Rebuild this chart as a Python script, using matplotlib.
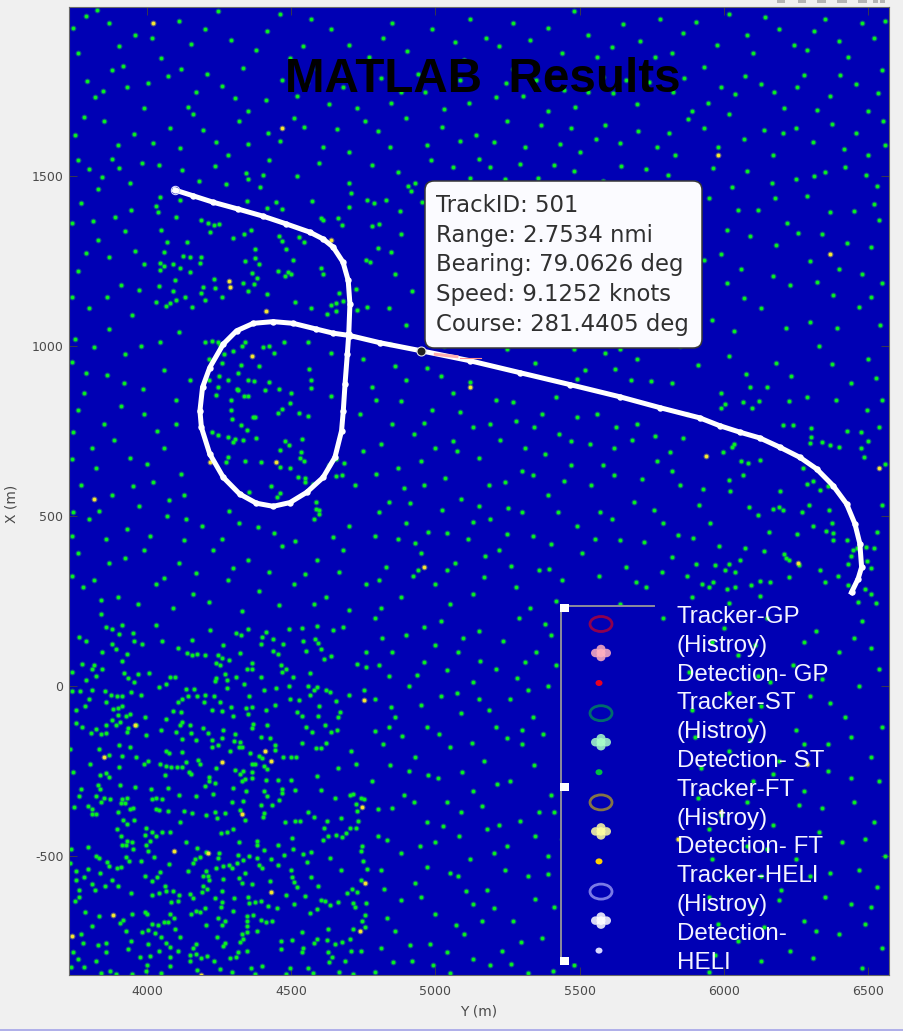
"""
Recreate the 'MATLAB Results' track plot: noise detections, one white track,
a data tip and the pasted legend strip.
"""

import matplotlib
matplotlib.use("Agg")
import matplotlib.pyplot as plt
from matplotlib.patches import Ellipse, FancyBboxPatch, Rectangle
from matplotlib.transforms import IdentityTransform

FIG_W, FIG_H = 904, 1031
BLUE = "#0000b4"
BG = "#f0f0f0"

# ── Data (values as (Y, X) in metres) ─────────────────────────────────────────
track = [(4097, 1458), (4160, 1441), (4230, 1422), (4316, 1402), (4403, 1381), (4484, 1358), (4565, 1334),
         (4611, 1314), (4646, 1290), (4680, 1246), (4698, 1192), (4704, 1123), (4700, 1035), (4695, 976),
         (4687, 887), (4681, 809), (4675, 750), (4652, 672), (4611, 613), (4554, 569), (4496, 539),
         (4438, 528), (4380, 537), (4322, 564), (4265, 613), (4218, 682), (4189, 760), (4184, 809),
         (4193, 878), (4218, 936), (4265, 1005), (4311, 1044), (4369, 1066), (4438, 1071), (4507, 1066),
         (4588, 1049), (4646, 1037), (4704, 1030), (4808, 1009), (4946, 986), (5120, 956), (5293, 921),
         (5466, 886), (5640, 850), (5779, 818), (5917, 788), (5986, 765), (6056, 746), (6125, 729),
         (6194, 702), (6264, 672), (6322, 638), (6379, 589), (6426, 535), (6455, 476), (6472, 418),
         (6478, 349), (6466, 315), (6443, 275)]

green_near = [(4180, 1483), (4274, 1476), (4345, 1507), (4349, 1490), (4401, 1503), (4391, 1468),
    (4519, 1500), (4701, 1479), (4706, 1448), (4764, 1430), (4788, 1419), (4571, 1425), (4700, 1407),
    (4447, 1422), (4469, 1401), (4415, 1405), (4348, 1427), (4045, 1437), (4030, 1412), (4039, 1393),
    (4102, 1378), (4116, 1429), (4189, 1370), (4212, 1361), (4233, 1356), (4249, 1358), (4218, 1334),
    (4050, 1341), (4070, 1305), (4139, 1304), (4059, 1277), (4299, 1317), (4336, 1329), (4360, 1339),
    (4457, 1322), (4467, 1309), (4527, 1319), (4544, 1304), (4484, 1285), (4374, 1285), (4374, 1258),
    (4388, 1241), (4339, 1250), (4507, 1252), (4126, 1263), (4151, 1262), (4187, 1262), (4183, 1244),
    (4045, 1244), (4059, 1234), (4045, 1224), (4089, 1239), (4114, 1228), (4149, 1218), (4099, 1192),
    (4041, 1177), (4089, 1160), (4232, 1197), (4235, 1170), (4195, 1174), (4186, 1154), (4201, 1136),
    (4131, 1143), (4100, 1135), (4079, 1125), (4065, 1118), (4157, 1115), (4260, 1143), (4364, 1214),
    (4381, 1199), (4334, 1184), (4370, 1182), (4351, 1160), (4417, 1152), (4454, 1221), (4490, 1218),
    (4480, 1205), (4501, 1211), (4605, 1228), (4611, 1211), (4514, 1128), (4568, 1110), (4667, 1154),
    (4680, 1131), (4655, 1126), (4640, 1121), (4657, 1101), (4623, 1092), (4729, 1105), (4764, 1113),
    (4724, 1167), (4759, 1252), (4775, 1245), (4802, 1288), (4782, 1353), (4805, 1358), (4678, 1356),
    (4661, 1375), (4611, 1370), (4602, 1376)]

green_upper = [(3790, 1970), (3960, 1915), (4110, 1955), (4290, 1900), (4460, 1975), (4640, 1930), (5120, 1960),
    (5330, 1900), (5480, 1985), (5650, 1945), (5860, 1920), (6020, 1975), (6190, 1930), (6350, 1960), (6520, 1905),
    (3760, 1860), (3880, 1810), (4050, 1845), (4210, 1800), (4380, 1870), (4590, 1815), (4770, 1850), (4940, 1800),
    (5100, 1840), (5270, 1815), (5440, 1860), (5580, 1790), (5760, 1850), (5930, 1820), (6100, 1860), (6280, 1795),
    (6430, 1850), (6550, 1810), (3820, 1730), (3990, 1700), (4170, 1745), (4350, 1690), (4520, 1735), (4730, 1700),
    (4880, 1745), (5030, 1695), (5210, 1730), (5390, 1690), (5530, 1745), (5700, 1710), (5890, 1690), (6040, 1740),
    (6210, 1700), (6370, 1735), (6500, 1690), (3750, 1620), (3900, 1590), (4080, 1640), (4240, 1600), (4420, 1625),
    (4610, 1585), (4800, 1630), (4970, 1590), (5140, 1620), (5310, 1585), (5470, 1640), (5640, 1595), (5810, 1625),
    (5980, 1585), (6140, 1635), (6310, 1600), (6460, 1625), (6560, 1590), (3800, 1520), (3940, 1480), (4870, 1510),
    (4930, 1480), (5060, 1525), (5240, 1490), (5410, 1530), (5580, 1485), (5730, 1520), (5900, 1480), (6080, 1515),
    (6250, 1490), (6420, 1525), (6530, 1470), (3770, 1420), (3890, 1380), (4830, 1430), (4905, 1470), (4915, 1455),
    (5320, 1450), (5450, 1410), (5610, 1440), (5780, 1395), (5950, 1435), (6120, 1400), (6290, 1440), (6450, 1395),
    (3830, 1310), (3960, 1280), (4880, 1330), (5370, 1350), (5520, 1310), (5690, 1345), (5850, 1300), (6010, 1340),
    (6180, 1295), (6340, 1330), (6510, 1290), (3760, 1220), (3910, 1180), (3990, 1240), (4860, 1210), (4920, 1160),
    (5410, 1240), (5570, 1200), (5740, 1230), (5900, 1185), (6060, 1225), (6230, 1180), (6400, 1225), (6550, 1185),
    (3800, 1110), (3950, 1090), (4030, 1130), (4840, 1110), (4900, 1060), (4990, 1100), (5440, 1120), (5620, 1080),
    (5790, 1115), (5960, 1075), (6130, 1110), (6300, 1070), (6470, 1115), (3870, 1950), (4200, 1930), (4540, 1880),
    (4850, 1950), (5220, 1880), (5560, 1850), (5780, 1960), (6130, 1770), (6460, 1770), (3930, 1760), (4470, 1780),
    (4680, 1760), (5010, 1780), (5350, 1780), (5660, 1780), (5990, 1760), (6290, 1870), (3850, 1660), (4160, 1680),
    (4510, 1670), (4900, 1670), (5250, 1660), (5590, 1650), (5930, 1640), (6250, 1640), (6500, 1560), (3880, 1550),
    (4280, 1560), (4700, 1570), (5150, 1550), (5500, 1570), (5830, 1560), (6170, 1560), (6350, 1510), (3830, 1460),
    (5130, 1420), (5520, 1400), (5880, 1370), (6220, 1360), (6540, 1370), (5270, 1370), (5180, 1260), (5640, 1270),
    (5990, 1270), (6300, 1250), (6480, 1210), (5300, 1120), (5730, 1140), (6070, 1140), (6380, 1150), (5520, 1180)]

green_top_extra = [(3745, 1935), (3828, 1988), (3905, 1880), (4018, 1905), (4073, 1792), (4152, 1888), (4245, 1985), (4333, 1818),
    (4415, 1925), (4497, 1847), (4568, 1962), (4702, 1885), (4818, 1905), (4902, 1868), (4988, 1932), (5068, 1892), (5175, 1905),
    (5268, 1950), (5392, 1935), (5528, 1915), (5612, 1878), (5708, 1895), (5822, 1862), (5905, 1952), (5975, 1885), (6082, 1915),
    (6142, 1968), (6245, 1885), (6312, 1925), (6398, 1895), (6478, 1948), (6558, 1955), (3792, 1778), (3848, 1748), (3918, 1822),
    (4005, 1772), (4120, 1815), (4142, 1702), (4262, 1765), (4305, 1728), (4412, 1722), (4555, 1772), (4632, 1712), (4812, 1788),
    (4845, 1715), (4965, 1745), (5085, 1782), (5118, 1715), (5245, 1772), (5305, 1735), (5445, 1752), (5485, 1702), (5615, 1742),
    (5742, 1775), (5825, 1745), (5862, 1788), (5945, 1715), (6075, 1792), (6175, 1745), (6255, 1762), (6322, 1692), (6402, 1795),
    (6535, 1742), (3782, 1672), (3955, 1622), (4022, 1595), (4115, 1582), (4195, 1635), (4318, 1662), (4352, 1592), (4462, 1602),
    (4545, 1642), (4658, 1638), (4755, 1662), (4842, 1585), (5022, 1642), (5085, 1602), (5205, 1598), (5368, 1648), (5432, 1592),
    (5558, 1608), (5702, 1632), (5768, 1585), (5875, 1668), (6018, 1682), (6072, 1608), (6205, 1625), (6375, 1652), (6418, 1578),
    (6552, 1662), (3762, 1545), (3845, 1495), (3905, 1522), (3982, 1538), (4042, 1532), (4122, 1518), (4235, 1528), (4425, 1545),
    (4598, 1538), (4782, 1532), (4985, 1545), (5122, 1492), (5188, 1525), (5292, 1535), (5355, 1492), (5482, 1515), (5645, 1528),
    (5808, 1502), (5962, 1522), (6028, 1468), (6168, 1478), (6312, 1498), (6492, 1502), (3742, 1362), (3812, 1368), (3945, 1398),
    (4878, 1395), (4955, 1422), (5035, 1445), (5195, 1448), (5405, 1462), (5565, 1372), (5685, 1432), (5835, 1428), (6048, 1398),
    (6178, 1435), (6368, 1392), (6522, 1418), (3925, 1338), (3868, 1262), (3788, 1272), (4848, 1275), (5225, 1322), (5442, 1302),
    (5612, 1342), (5782, 1312), (5932, 1252), (6092, 1322), (6258, 1332), (6428, 1302), (3742, 1142), (3862, 1142), (3972, 1165),
    (5362, 1202), (5492, 1158), (5672, 1168), (5842, 1222), (6012, 1185), (6172, 1205), (6322, 1188), (6512, 1142), (5412, 1062),
    (5565, 1062), (5702, 1052), (5895, 1122), (6035, 1042), (6215, 1052), (6392, 1052), (6542, 1062)]

green_middle = [(3750, 1020), (3870, 1050), (3980, 1000), (4110, 1040), (4200, 1010), (4330, 1000), (4440, 980),
    (4560, 1010), (4640, 980), (4750, 960), (4860, 940), (5020, 910), (5150, 1010), (5300, 1030), (5480, 990),
    (5590, 980), (5700, 960), (5850, 1000), (6020, 970), (6180, 950), (6330, 1000), (6500, 960), (3790, 920),
    (3920, 890), (4060, 930), (4150, 900), (4780, 880), (4900, 900), (5060, 860), (5210, 840), (5370, 800),
    (5520, 930), (5680, 900), (5820, 890), (5990, 860), (6150, 880), (6290, 850), (6440, 890), (6550, 840),
    (3760, 810), (3850, 770), (3990, 800), (4100, 770), (4740, 800), (4850, 770), (4990, 810), (5130, 760),
    (5280, 780), (5430, 740), (5560, 800), (5700, 770), (5860, 730), (3810, 700), (3940, 670), (4060, 700),
    (4750, 690), (4870, 640), (5000, 700), (5150, 670), (5310, 700), (5470, 650), (5620, 700), (5770, 660),
    (3770, 590), (3880, 560), (4020, 600), (4130, 560), (4720, 590), (4840, 540), (4960, 590), (5090, 550),
    (5240, 600), (5390, 560), (5540, 590), (5690, 540), (5850, 590), (3800, 490), (3930, 460), (4070, 500),
    (4190, 470), (4320, 480), (4440, 450), (4580, 490), (4700, 470), (4790, 440), (4900, 480), (5040, 450),
    (5190, 490), (5340, 440), (5490, 470), (5640, 430), (5790, 480), (3760, 390), (3870, 360), (3990, 400),
    (4110, 360), (4230, 400), (4350, 370), (4470, 410), (4590, 370), (4680, 400), (4830, 350), (4950, 390),
    (5070, 360), (5220, 400), (5360, 340), (5510, 390), (5660, 350), (5820, 380), (3780, 290), (3900, 260),
    (4030, 300), (4160, 270), (4280, 310), (4390, 280), (4510, 300), (4620, 260), (4760, 300), (4880, 260),
    (5000, 300), (5130, 270), (5280, 290), (5420, 250), (5730, 290), (5890, 260), (3840, 210), (4090, 230),
    (4330, 220), (4580, 240), (4810, 230), (5050, 240), (5330, 230), (5640, 240), (5190, 770), (5420, 850),
    (5030, 1000), (5250, 990), (5640, 990), (5470, 720), (5060, 720), (5340, 620), (5150, 530), (4950, 660),
    (5620, 620), (5300, 510), (5570, 510), (4930, 420), (5440, 310), (5170, 320), (4940, 340)]

green_middle_extra = [(3815, 995), (3925, 975), (4045, 1012), (3742, 952), (3862, 915), (3985, 872), (4102, 842), (3782, 862),
    (3912, 822), (4035, 748), (3745, 745), (3885, 722), (4000, 652), (4118, 622), (3825, 642), (3742, 668), (3952, 588),
    (4078, 548), (3835, 515), (3745, 512), (3972, 528), (4135, 492), (3858, 432), (4012, 442), (4128, 428), (3742, 442),
    (4262, 432), (4385, 468), (4512, 425), (4645, 438), (3925, 375), (4058, 318), (4172, 332), (3815, 312), (3742, 322),
    (4298, 348), (4425, 335), (4548, 328), (4665, 335), (3842, 252), (3968, 242), (4215, 248), (4458, 238), (4702, 222),
    (4805, 312), (4922, 322), (5042, 342), (5172, 382), (5262, 352), (5395, 345), (5568, 322), (5695, 305), (5785, 335),
    (4872, 432), (4975, 452), (5115, 432), (5248, 448), (5402, 418), (5552, 432), (5725, 422), (5842, 445), (4805, 512),
    (4912, 538), (5022, 518), (5132, 482), (5252, 522), (5425, 512), (5612, 492), (5758, 518), (4795, 622), (4892, 582),
    (5032, 612), (5185, 592), (5302, 632), (5445, 602), (5582, 648), (5718, 608), (5822, 632), (4812, 712), (4925, 742),
    (5075, 692), (5225, 722), (5382, 682), (5535, 712), (5682, 722), (5815, 688), (4795, 842), (4882, 838), (4962, 772),
    (5085, 805), (5268, 835), (5342, 762), (5492, 792), (5625, 762), (5762, 735), (5872, 798), (4842, 1005), (4972, 935),
    (5122, 892), (5345, 948), (5492, 902), (5622, 932), (5748, 895), (5912, 942), (6078, 918), (6232, 912), (6375, 945),
    (6528, 905), (6092, 878), (6228, 838), (6388, 842), (6495, 812), (6428, 748), (6538, 762), (6560, 652), (6548, 532),
    (6532, 452), (5915, 532), (5952, 478), (6022, 572), (5985, 412), (5892, 435), (5905, 358), (5872, 322), (6255, 448),
    (6195, 572), (6158, 452), (6120, 502)]

green_loop = [(4227, 1015), (4248, 1010), (4255, 1002), (4340, 1010), (4403, 997), (4423, 998), (4476, 1012),
    (4297, 985), (4267, 977), (4217, 960), (4260, 950), (4327, 942), (4315, 920), (4390, 940), (4562, 931),
    (4215, 900), (4250, 910), (4281, 900), (4351, 898), (4371, 895), (4423, 894), (4569, 898), (4247, 880),
    (4241, 855), (4315, 870), (4312, 873), (4408, 870), (4459, 874), (4569, 877), (4640, 853), (4293, 840),
    (4338, 851), (4352, 851), (4293, 810), (4369, 790), (4375, 791), (4456, 803), (4470, 813), (4527, 803),
    (4557, 794), (4497, 833), (4500, 861), (4296, 786), (4328, 768), (4346, 753), (4226, 745), (4247, 739),
    (4280, 731), (4307, 725), (4335, 724), (4298, 716), (4380, 729), (4480, 721), (4492, 708), (4460, 693),
    (4537, 725), (4535, 687), (4281, 672), (4340, 661), (4275, 657), (4396, 657), (4530, 670), (4544, 660),
    (4460, 643), (4495, 640), (4525, 615), (4547, 600), (4548, 610), (4575, 594), (4429, 589), (4355, 570),
    (4460, 567), (4451, 556), (4586, 541), (4585, 520), (4597, 518), (4285, 515), (4598, 505), (4630, 650),
    (4655, 668), (4684, 655), (4675, 620), (4655, 618)]

green_right = [(6004, 828), (5992, 818), (6066, 834), (6099, 817), (6121, 837), (6206, 768), (6240, 766), (6301, 757),
    (6304, 732), (6300, 714), (6340, 717), (6368, 709), (6399, 703), (6485, 674), (6475, 700), (6500, 721),
    (6475, 745), (5999, 688), (6027, 702), (6035, 712), (6060, 660), (6085, 655), (6126, 664), (6066, 620),
    (6019, 605), (6310, 603), (6335, 575), (6290, 595), (6360, 588), (6275, 640), (5928, 579), (6087, 525),
    (6170, 520), (6193, 525), (6206, 518), (6270, 510), (6296, 533), (6374, 478), (6365, 518), (6310, 469),
    (6356, 454), (6379, 429), (6378, 449), (6426, 430), (6440, 381), (6447, 400), (6432, 358), (6461, 405),
    (6520, 405), (6498, 368), (6510, 346), (6493, 408), (6075, 405), (6057, 369), (6140, 398), (6005, 340),
    (6020, 358), (6040, 335), (6210, 389), (6215, 375), (6225, 370), (6260, 355), (6225, 320), (6335, 342),
    (6350, 305), (6396, 322), (6432, 297), (6445, 282), (6490, 286), (6510, 270), (6466, 248), (6527, 245),
    (5926, 300), (5950, 290), (5964, 305), (6010, 285), (6040, 290), (6096, 297), (6020, 245), (6126, 309),
    (6125, 263), (6161, 305), (5970, 355)]

green_lower_left = [(3857, 174), (3880, 167), (3913, 180), (3903, 153), (3952, 155), (4033, 180), (3765, 145), (3788, 133),
    (3878, 123), (3955, 131), (3984, 123), (4054, 131), (4109, 112), (4155, 135), (4218, 163), (4308, 155), (4326, 151),
    (4412, 158), (4398, 143), (4352, 166), (4493, 167), (4539, 170), (4590, 176), (4680, 174), (4647, 165), (4437, 138),
    (4265, 121), (4396, 123), (4472, 123), (4541, 131), (4583, 138), (4595, 125), (4603, 109), (4553, 102), (4637, 87),
    (4614, 79), (4759, 99), (4728, 63), (4761, 57), (3843, 99), (3892, 107), (3932, 94), (4140, 97), (4155, 91), (4175, 94),
    (4202, 91), (4247, 91), (4259, 82), (4283, 76), (4324, 98), (4439, 104), (4456, 94), (3913, 72), (3774, 63), (3817, 60),
    (3809, 49), (3843, 49), (3742, 40), (3921, 38), (3969, 35), (4007, 37), (3933, 23), (4079, 27), (4098, 27), (4239, 67),
    (4252, 62), (4366, 68), (4348, 49), (4366, 49), (4465, 61), (4481, 49), (4470, 40), (4271, 35), (4241, 23), (4279, 16),
    (4308, 25), (4395, 25), (4507, 27), (4565, 38), (3790, 16), (3825, 28), (3955, 11), (4065, 6), (4042, -4), (4337, 6),
    (4279, -6), (4235, 14), (4493, -1), (4557, 1), (4580, -11), (4622, -12), (4635, -19), (4591, -2), (4701, -26), (4753, -12),
    (3739, -16), (3767, -14), (3809, -12), (3855, -16), (3874, -27), (3895, -29), (3915, -31), (3945, -19), (3981, -26),
    (4137, -9), (4144, -29), (4164, -9), (4173, -31), (4202, -26), (4233, -31), (4198, -46), (4253, -48), (4354, -29),
    (4406, -12), (4447, -7), (4495, -38), (4528, -41), (4565, -26), (4655, -43), (3799, -39), (3859, -48), (3784, -58),
    (3884, -69), (3900, -65), (3915, -58), (4121, -40), (4108, -46), (3755, -71), (4092, -75), (4120, -76), (4225, -71),
    (4259, -75), (4290, -63), (4343, -65), (4364, -63), (4412, -71), (4443, -56), (4597, -58), (4522, -78), (4671, -78),
    (3942, -82), (3929, -89), (3901, -85), (3880, -100), (3906, -105), (3994, -92), (4065, -98), (4123, -105), (4299, -89),
    (4351, -82), (4539, -89), (4595, -89), (4661, -92), (3755, -110), (3776, -122), (3822, -127), (3859, -114), (3892, -114),
    (3961, -114), (3935, -124), (3805, -138), (3842, -142), (3859, -139), (3932, -136), (3996, -143), (4048, -131), (4100, -136),
    (4114, -114), (4148, -114), (4152, -138), (4196, -124), (4213, -139), (4264, -129), (4306, -141), (4366, -124), (4369, -112),
    (4418, -115), (4395, -151), (4553, -122), (4574, -137), (4618, -114), (4659, -129), (4637, -137), (4123, -155), (4169, -159),
    (4227, -158), (4259, -152), (4302, -163), (4428, -153), (4322, -166), (4537, -167), (4622, -169), (4588, -184), (4603, -184),
    (4707, -190), (3733, -187), (3834, -186), (3903, -173), (3940, -181), (3869, -202), (3913, -205), (3961, -208), (4068, -190),
    (4077, -196), (4123, -195), (4225, -180), (4248, -175), (4287, -192), (4320, -180), (4331, -179), (4444, -175), (4357, -197),
    (4389, -205), (4400, -213), (4443, -188), (4473, -208), (4499, -209), (4518, -210), (3802, -229), (3903, -239), (3991, -229),
    (4003, -222), (4047, -229), (4068, -235), (4084, -239), (4106, -238), (4121, -237), (4137, -224), (4183, -231), (4177, -218),
    (4239, -240), (4306, -247), (4366, -229), (4374, -230), (4406, -236), (4417, -243), (4664, -241), (4724, -231), (3744, -254),
    (3839, -263), (3859, -255), (3869, -267), (4063, -263), (4146, -254), (4152, -259), (4216, -269), (4322, -259), (4333, -250),
    (4366, -254), (4366, -271), (4341, -274), (4329, -280), (4591, -265), (3831, -292), (3836, -303), (3906, -290), (3958, -298),
    (4016, -303), (4072, -301), (4202, -294), (4216, -280), (4235, -285), (4300, -301), (4343, -308), (4412, -278), (4456, -276),
    (4498, -278), (4405, -310), (4468, -316), (4470, -303), (4513, -306), (4603, -306), (3773, -304), (3765, -325), (3825, -324),
    (3851, -329), (3871, -334), (3842, -342), (3932, -329), (3915, -332), (3911, -344), (3924, -345), (4019, -334), (4033, -329),
    (4054, -333), (4111, -322), (4172, -324), (4229, -318), (4296, -342), (4333, -339), (4417, -323), (4458, -335), (4651, -331),
    (4703, -320), (4713, -318), (4741, -331), (4753, -332), (3747, -357), (3797, -354), (3811, -362), (3809, -376), (3822, -378),
    (3901, -370), (3940, -363), (3952, -359), (4033, -362), (4042, -365), (4073, -367), (4127, -368), (4158, -374), (4204, -379),
    (4235, -371), (4270, -373), (4322, -366), (4244, -388), (4397, -349), (4435, -351), (4407, -374), (4403, -386), (4560, -370),
    (4580, -384), (4724, -347), (4727, -368), (4672, -387), (4733, -396), (4340, -394), (3918, -394), (3957, -394), (3932, -406),
    (4116, -400), (4479, -400), (4514, -396), (4530, -398), (4626, -396), (4614, -418), (3896, -422), (3996, -418), (3994, -438),
    (4019, -430), (4031, -440), (4054, -429), (4080, -430), (3909, -441), (4011, -455), (4257, -432), (4277, -429), (4299, -422),
    (4502, -447), (4628, -442), (4612, -452), (4655, -437), (4678, -443), (4690, -432), (4705, -418), (4724, -418), (3932, -455),
    (3913, -469), (3929, -467), (3947, -459), (3953, -479), (3996, -469), (4135, -460), (4320, -459), (4381, -455), (4382, -467),
    (4456, -469), (3736, -479), (3797, -474), (4005, -484), (4175, -478), (4204, -487), (4250, -491), (4407, -482), (4505, -480),
    (4541, -494), (4570, -489), (4476, -496), (4742, -484), (4747, -471), (3825, -499), (3834, -507), (3927, -504), (3938, -516),
    (3979, -516), (4025, -504), (4167, -510), (4161, -521), (4183, -504), (4248, -506), (4317, -497), (4333, -512), (4354, -500),
    (4383, -506), (4429, -510), (4636, -505), (4751, -516), (3732, -521), (3863, -518), (3869, -530), (3898, -535), (3911, -533),
    (4077, -523), (4239, -534), (4264, -529), (4283, -528), (4296, -535), (4314, -521), (4389, -526), (4400, -535), (4456, -526),
    (4501, -540), (4555, -518), (4673, -542), (4763, -539), (3753, -543), (3796, -539), (3836, -551), (3782, -561), (3753, -572),
    (3878, -572), (3811, -582), (3855, -587), (3901, -589), (3994, -558), (4034, -561), (4044, -548), (4019, -574), (4142, -543),
    (4204, -543), (4195, -558), (4213, -558), (4216, -572), (4265, -568), (4196, -587), (4320, -566), (4340, -551), (4331, -580),
    (4364, -582), (4428, -575), (4502, -563), (4510, -577), (4520, -592), (4568, -563), (4595, -587), (4741, -572), (3765, -599),
    (3819, -599), (3944, -608), (4017, -616), (4042, -610), (4063, -588), (4068, -602), (4091, -604), (4111, -615), (4150, -612),
    (4161, -623), (4192, -605), (4210, -597), (4262, -604), (4235, -624), (4302, -624), (4351, -621), (4484, -615), (4548, -619),
    (4695, -608), (4710, -597), (4730, -607), (3765, -621), (3751, -633), (4083, -636), (4108, -633), (4262, -636), (4354, -639),
    (4375, -634), (4397, -633), (4420, -646), (4452, -653), (4509, -641), (4605, -629), (4618, -633), (4634, -644), (4664, -636),
    (4713, -639), (4761, -639), (4258, -651), (4202, -653), (4299, -661), (4590, -657), (4721, -651), (3785, -664), (3834, -676),
    (3950, -670), (3992, -664), (3999, -672), (4080, -670), (4094, -682), (4152, -672), (4169, -661), (4185, -665), (4247, -683),
    (4347, -678), (4369, -675), (4566, -669), (4757, -675), (3906, -698), (3918, -688), (3809, -706), (4019, -700), (4040, -702),
    (4059, -693), (4072, -694), (4204, -702), (4262, -702), (4271, -690), (4346, -690), (4348, -705), (4396, -688), (4414, -694),
    (4435, -690), (4747, -690), (4757, -710), (3927, -721), (3984, -724), (4004, -717), (4027, -727), (4098, -715), (3773, -729),
    (4049, -737), (4115, -739), (4244, -739), (4329, -729), (4348, -723), (4381, -722), (4333, -744), (4537, -724), (4629, -715),
    (4713, -716), (3944, -749), (3779, -757), (3831, -761), (3857, -755), (4005, -759), (4065, -757), (4081, -768), (4169, -759),
    (4160, -771), (4270, -755), (4263, -766), (4322, -752), (4464, -751), (4502, -747), (4580, -757), (4589, -744), (4626, -746),
    (4652, -759), (4678, -754), (4703, -744), (3936, -773), (3857, -783), (3744, -783), (4011, -793), (4042, -778), (4108, -780),
    (4148, -790), (4172, -788), (4207, -793), (4317, -783), (4348, -778), (4465, -773), (4541, -770), (4537, -783), (4629, -782),
    (4707, -780), (4741, -778), (3762, -802), (3825, -810), (3975, -798), (4079, -798), (4150, -810), (4187, -800), (4231, -810),
    (4289, -800), (4308, -796), (4641, -798), (4686, -810), (4632, -813), (3782, -827), (3736, -827), (3871, -837), (4002, -822),
    (4079, -824), (4175, -835), (4253, -832), (4296, -842), (4360, -829), (4398, -823), (4495, -829), (4560, -829), (3840, -845),
    (3892, -847), (3950, -847), (3998, -839), (4048, -845), (4374, -847), (4481, -847), (4577, -845), (4666, -842), (4713, -847)]

green_lower_right = [(4790, 200), (4900, 150), (5020, 190), (5150, 160), (5290, 200), (5400, 150), (5790, 200), (6000, 170),
    (6150, 200), (6320, 160), (6480, 190), (4850, 100), (4960, 70), (5080, 100), (5210, 50), (5350, 100), (6050, 90),
    (6240, 60), (6400, 100), (6540, 50), (4790, -40), (4910, 0), (5020, -30), (5130, 10), (5260, -40), (5390, 0),
    (6020, -20), (6160, 10), (6300, -30), (6470, 0), (4860, -90), (4970, -120), (5090, -80), (5210, -120), (5340, -90),
    (6090, -100), (6250, -130), (6420, -90), (6550, -120), (4820, -170), (4930, -210), (5050, -180), (5170, -220),
    (5300, -170), (6020, -190), (6190, -220), (6360, -170), (6510, -210), (4780, -280), (4890, -320), (5010, -270),
    (5130, -310), (5260, -280), (5400, -320), (6100, -280), (6280, -310), (6440, -270), (4850, -360), (4970, -400),
    (5090, -370), (5220, -410), (5360, -370), (5990, -380), (6170, -410), (6340, -360), (6520, -400), (4880, -490),
    (5000, -460), (5120, -510), (5250, -470), (5390, -500), (6080, -470), (6250, -510), (6410, -460), (6560, -500),
    (4810, -540), (4930, -580), (5050, -550), (5180, -600), (5320, -560), (5450, -590), (6020, -560), (6200, -600),
    (6370, -550), (6530, -590), (4880, -630), (5000, -670), (5130, -640), (5270, -690), (5410, -650), (6100, -650),
    (6280, -690), (6440, -640), (4860, -720), (4980, -760), (5100, -730), (5230, -780), (5370, -740), (6050, -750),
    (6230, -780), (6400, -730), (6550, -770), (4790, -840), (4920, -810), (5050, -845), (5190, -820), (5320, -845),
    (5480, -820), (5950, -840), (5960, 130), (6110, 120), (6280, 130), (6450, 140), (5880, 40), (6120, 30), (6340, 20),
    (6510, 110), (5890, -70), (6130, -60), (6370, -50), (5900, -150), (6090, -160), (6280, -170), (6440, -150), (5920, -240),
    (6170, -260), (6360, -250), (6540, -280), (5910, -330), (6080, -340), (6260, -350), (6450, -340), (5950, -420),
    (6150, -480), (6330, -430), (6490, -450), (5960, -510), (6130, -560), (6300, -560), (6470, -540), (5950, -620),
    (6190, -630), (6350, -620), (6510, -650), (5980, -700), (6140, -710), (6320, -720), (6490, -700), (5970, -790),
    (6130, -810), (6310, -800), (6480, -830), (4840, -120), (4910, -250), (5040, -340), (5180, -420), (5300, -130),
    (5450, -240), (4800, -440), (5150, -40), (5310, 70), (5460, 130), (5000, 120), (4840, 30), (5080, -560), (5440, -450),
    (4815, 142), (4962, 172), (5095, 142), (5235, 132), (5382, 182), (4805, 62), (4935, 32), (5042, 48), (5155, 72),
    (5282, 22), (5418, 62), (4845, -62), (4952, -55), (5075, -22), (5185, -72), (5322, -12), (5442, -72), (4792, -132),
    (4885, -148), (5012, -142), (5128, -168), (5248, -152), (5375, -142), (5482, -182), (4842, -232), (4975, -262),
    (5092, -252), (5215, -288), (5342, -232), (5462, -292), (4802, -362), (4925, -342), (5028, -412), (5162, -352),
    (5295, -398), (5412, -372), (4832, -452), (4948, -472), (5082, -442), (5205, -492), (5345, -442), (5478, -382),
    (4822, -598), (4972, -532), (5108, -602), (5242, -542), (5392, -552), (4832, -682), (4952, -622), (5072, -702),
    (5205, -652), (5345, -628), (5478, -702), (4812, -772), (4912, -762), (5042, -782), (5162, -692), (5298, -752),
    (5442, -782), (4852, -812), (4992, -822), (5132, -802), (5262, -818), (5408, -838)]

yellow = [(4020, 1950), (4470, 1640), (4286, 1190), (4288, 1172), (4413, 1102), (4365, 970), (4640, 1310),
    (5120, 880), (5980, 1560), (6370, 1270), (6540, 640), (4960, 350), (3815, 550), (5939, 676), (6259, 361),
    (5990, -370), (5840, -450), (5630, -620), (6290, -230), (3959, -114), (3851, -209), (4262, -223), (4429, -220),
    (4410, -192), (4331, -376), (4745, -357), (4752, -41), (4094, -485), (4213, -491), (4432, -607), (4757, -580),
    (3884, -675), (3739, -734), (4738, -721), (4188, -849), (4218, 657), (4449, 658)]

# Legend strip: one ring, one diamond, one dot per target type
legend_labels = ["Tracker-GP\n(Histroy)", "Detection- GP", "Tracker-ST\n(Histroy)", "Detection- ST",
                 "Tracker-FT\n(Histroy)", "Detection- FT", "Tracker-HELI\n(Histroy)", "Detection-\nHELI"]
ring_colors = ["#a8003c", "#007f60", "#9c8a34", "#9090ee"]
diamond_colors = ["#ffb0c0", "#a8ffc8", "#ffffa0", "#ffffff"]
dot_colors = ["#e80020", "#00c040", "#ffd000", "#d8d8ff"]

tip_lines = ["TrackID: 501", "Range: 2.7534 nmi", "Bearing: 79.0626 deg",
             "Speed: 9.1252 knots", "Course: 281.4405 deg"]

plt.rcParams["axes.unicode_minus"] = False


def fx(px):
    return px / FIG_W


def fy(py):
    return 1 - py / FIG_H


def add_px_ellipse(cx, cy, w, h, **kw):
    # cx, cy in picture pixels, measured from the top left
    fig.add_artist(Ellipse((cx, FIG_H - cy), w, h, transform=IdentityTransform(), **kw))


fig = plt.figure(figsize=(FIG_W / 100, FIG_H / 100), dpi=100, facecolor=BG)
ax = fig.add_axes([fx(69), fy(975), fx(889) - fx(69), fy(7) - fy(975)], facecolor=BLUE)
ax.set_xlim(3730, 6573)
ax.set_ylim(-850, 1996)

green = (green_near + green_upper + green_top_extra + green_middle + green_middle_extra + green_loop
         + green_right + green_lower_left + green_lower_right)
gx, gy = zip(*green)
yx, yy = zip(*yellow)
ax.scatter(gx, gy, s=18, color="#20d040", alpha=0.4, linewidths=0, zorder=2)
ax.scatter(gx, gy, s=7, color="#08f020", linewidths=0, zorder=2)
ax.scatter(yx, yy, s=18, color="#d0d040", alpha=0.45, linewidths=0, zorder=2)
ax.scatter(yx, yy, s=7, color="#f8e830", linewidths=0, zorder=2)

tx, ty = zip(*track)
ax.plot(tx, ty, color="white", lw=3.6, solid_joinstyle="round", zorder=3)
ax.plot(tx, ty, ls="none", marker="o", ms=4.6, color="white", mew=0, zorder=3)
ax.plot(tx[0], ty[0], "o", ms=6, mfc="none", mec="#d8d8ff", mew=0.8, zorder=4)

# highlighted detections beside the selected track point
ax.plot([5000, 5075], [975, 968], color="#ffb0b0", lw=2.2, zorder=4)
ax.plot([5085, 5160], [965, 965], color="#ff9090", lw=0.8, zorder=4)
ax.plot(4950, 986, "o", ms=6.5, mfc="#202020", mec="#e0e0e0", mew=0.8, zorder=6)

ax.set_xticks([4000, 4500, 5000, 5500, 6000, 6500])
ax.set_yticks([-500, 0, 500, 1000, 1500])
ax.tick_params(direction="in", length=5.5, width=0.6, color="#404040", labelsize=9,
               labelcolor="#4a4a4a", top=True, right=True)
ax.tick_params(axis="x", pad=7)
ax.tick_params(axis="y", pad=4)
ax.set_xlabel("Y (m)", fontsize=10, color="#4a4a4a", labelpad=5)
ax.set_ylabel("X (m)", fontsize=10, color="#4a4a4a")
ax.yaxis.set_label_coords((19 - 69) / 820, (975 - 504) / 968)
for spine in ax.spines.values():
    spine.set_color("#6a6a6a")
    spine.set_linewidth(0.8)

# ── Overlays, placed in picture pixels ────────────────────────────────────────
tr = fig.transFigure
fig.text(fx(483), fy(79), "MATLAB  Results", fontsize=34.3, fontweight="bold", color="black",
         family="Liberation Sans", ha="center", va="center", zorder=10)

box = FancyBboxPatch((425, FIG_H - 348), 277, 167, boxstyle="round,pad=0,rounding_size=9",
                     transform=IdentityTransform(), fc="#fbfbff", ec="#383838", lw=1.1, zorder=8)
fig.add_artist(box)
for i, line in enumerate(tip_lines):
    fig.text(fx(436), fy(206 + i * 29.5), line, fontsize=16.4, color="#303030", va="center", zorder=9)

# legend strip
fig.add_artist(Rectangle((fx(561), fy(963)), fx(654) - fx(561), fy(606) - fy(963),
                         transform=tr, fc=BLUE, ec="none", zorder=7))
fig.add_artist(plt.Line2D([fx(561), fx(561), fx(654)], [fy(963), fy(606), fy(606)],
                          transform=tr, color="#8c8c9c", lw=1.4, zorder=8))
for py in (608, 787, 961):
    fig.add_artist(Rectangle((fx(560), fy(py + 4)), fx(9), 8 / FIG_H, transform=tr, fc="white", ec="none", zorder=9))
for i in range(4):
    y0 = 624 + i * 89.2
    add_px_ellipse(601, y0, 22, 15, fc="none", ec=ring_colors[i], lw=2.0, alpha=0.85, zorder=9)
    for dx, dy in ((-5.5, 0), (5.5, 0), (0, -4), (0, 4), (0, 0)):
        add_px_ellipse(601 + dx, y0 + 29 + dy, 9, 8.5, fc=diamond_colors[i], ec="none", alpha=0.85, zorder=9)
    add_px_ellipse(599, y0 + 59, 7, 6, fc=dot_colors[i], ec="none", zorder=9)

row = 0
for label in legend_labels:
    for part in label.split("\n"):
        fig.text(fx(677), fy(617 + row * 28.8), part, fontsize=17.4, color="#f4f4ff",
                 family="Liberation Sans", va="center", zorder=10)
        row += 1

# window chrome: cut-off toolbar icons and bottom border of the screenshot
for left, width in ((777, 8), (798, 8), (817, 9), (837, 10), (858, 9), (873, 5), (880, 5)):
    fig.add_artist(Rectangle((fx(left), fy(3)), fx(width), 3 / FIG_H, transform=tr,
                             fc="#b4b4b4", ec="none"))
fig.add_artist(plt.Line2D([0, 1], [fy(1030), fy(1030)], transform=tr, color="#a4a4e8", lw=1.2))

fig.savefig("out.png", dpi=100, facecolor=BG)
plt.close(fig)
